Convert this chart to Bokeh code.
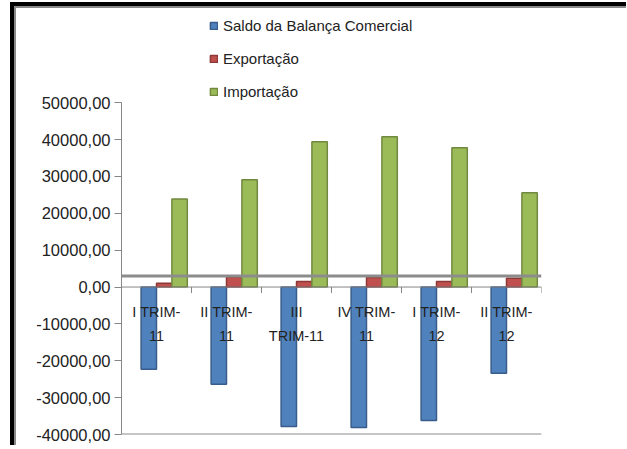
import numpy as np
from bokeh.plotting import figure
from bokeh.models import ColumnDataSource, FixedTicker, Legend, LegendItem, Span, Range1d
from bokeh.core.properties import value
from bokeh.embed import file_html
from bokeh.resources import INLINE

# ---- data ----
categories = ["I TRIM-\n11", "II TRIM-\n11", "III\nTRIM-11",
              "IV TRIM-\n11", "I TRIM-\n12", "II TRIM-\n12"]
saldo = [-22300, -26400, -37800, -38100, -36200, -23400]
exportacao = [1000, 2700, 1500, 2600, 1500, 2400]
importacao = [23900, 29100, 39400, 40800, 37800, 25600]
series_names = ["Saldo da Balança Comercial", "Exportação", "Importação"]
y_ticks = [-40000, -30000, -20000, -10000, 0, 10000, 20000, 30000, 40000, 50000]

FONT = "Liberation Sans"
TXT = "#222222"
GRAY = "#868686"
n = len(categories)
idx = np.arange(n)

src = ColumnDataSource(dict(
    xb=idx + 0.39, xr=idx + 0.61, xg=idx + 0.83,
    saldo=saldo, exp=exportacao, imp=importacao,
))
lab_src = ColumnDataSource(dict(x=idx + 0.5, y=[0] * n, text=categories))

# frame: 426 px tall, axis part (tick range) 331 px, 95 px of room for legend above
y_top = y_ticks[-1] + (y_ticks[-1] - y_ticks[0]) * 96 / 331

p = figure(width=616, height=443, output_backend="svg", toolbar_location=None,
           x_axis_type=None,
           x_range=Range1d(0, n), y_range=Range1d(y_ticks[0], y_top),
           min_border_left=107, min_border_right=89,
           min_border_top=0, min_border_bottom=15)
p.outline_line_color = None
p.background_fill_color = None
p.border_fill_color = None
p.grid.visible = False
p.styles = {"margin-left": "10px", "margin-top": "2px",
            "border-top": "4px solid #000", "border-left": "4px solid #000",
            "box-shadow": "inset 2px 2px 0 #8a8a8a"}

# back-wall zero line and floor edge
p.add_layout(Span(location=3000, dimension="width", line_color="#8c8c8c", line_width=3))
p.add_layout(Span(location=y_ticks[0], dimension="width", line_color="#8c8c8c", line_width=2))

rb = p.vbar(x="xb", top="saldo", bottom=0, width=0.22, source=src,
            fill_color="#4F81BD", line_color="#385D8A", line_width=1.5)
rr = p.vbar(x="xr", top="exp", bottom=0, width=0.22, source=src,
            fill_color="#C0504D", line_color="#8C3836", line_width=1.5)
rg = p.vbar(x="xg", top="imp", bottom=0, width=0.22, source=src,
            fill_color="#9BBB59", line_color="#71893F", line_width=1.5)

# category axis at zero
p.add_layout(Span(location=0, dimension="width", line_color=GRAY, line_width=1))
p.ray(x=list(range(n + 1)), y=[0] * (n + 1), length=6, length_units="screen",
      angle=-np.pi / 2, line_color=GRAY, line_width=1)
p.text(x="x", y="y", text="text", source=lab_src, text_align="center",
       text_baseline="top", y_offset=17, text_font_size="14.5px",
       text_color=TXT, text_line_height=1.5, text_font=value(FONT))

# y axis
yax = p.yaxis[0]
yax.ticker = FixedTicker(ticks=y_ticks)
yax.bounds = (y_ticks[0], y_ticks[-1])
yax.major_label_overrides = {t: f"{t},00" for t in y_ticks}
yax.axis_line_color = GRAY
yax.major_tick_line_color = GRAY
yax.major_tick_out = 7
yax.major_tick_in = 0
yax.minor_tick_line_color = None
yax.major_label_standoff = 4
yax.major_label_text_font = FONT
yax.major_label_text_font_size = "16.5px"
yax.major_label_text_color = TXT

legend = Legend(items=[LegendItem(label=series_names[0], renderers=[rb]),
                       LegendItem(label=series_names[1], renderers=[rr]),
                       LegendItem(label=series_names[2], renderers=[rg])],
                orientation="vertical", location=(88, 333),
                glyph_width=9, glyph_height=9, label_standoff=5, spacing=13,
                padding=0, margin=0, border_line_color=None,
                background_fill_alpha=0, label_height=20,
                label_text_font=FONT, label_text_font_size="15px",
                label_text_color=TXT)
p.add_layout(legend, "center")

open("out.html", "w").write(file_html(p, INLINE))
